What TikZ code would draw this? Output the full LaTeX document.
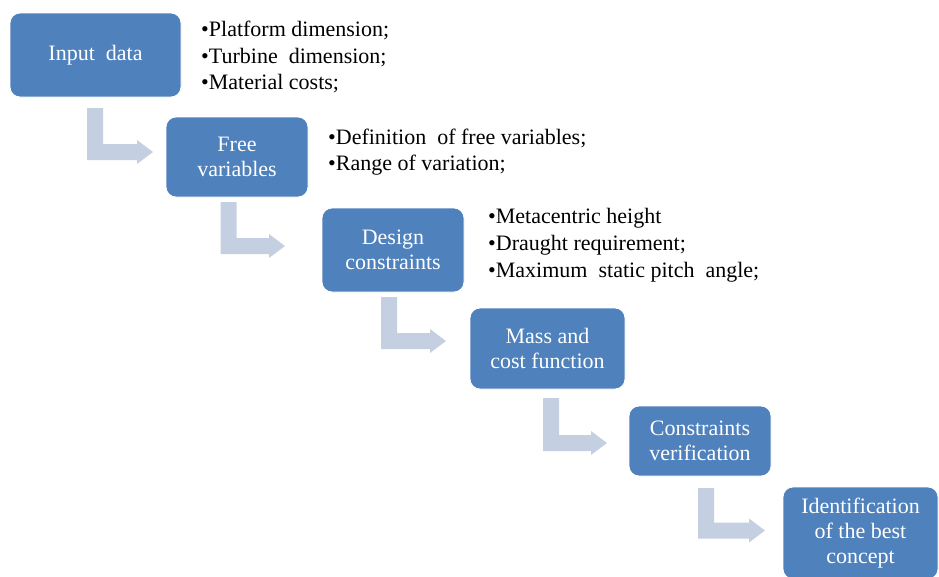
\documentclass[tikz,border=0pt]{standalone}
\usepackage{fontspec}
\setmainfont{Liberation Serif}
\definecolor{boxblue}{RGB}{79,129,189}
\definecolor{arrgray}{RGB}{197,207,226}
\newcommand{\bentarr}[4]{% barx, topy, midy, tipx
  \fill[arrgray] ({#1-8},{#2}) -- ({#1+8},{#2}) -- ({#1+8},{#3-8}) -- ({#4-16},{#3-8})
    -- ({#4-16},{#3-12}) -- ({#4},{#3}) -- ({#4-16},{#3+12}) -- ({#4-16},{#3+8})
    -- ({#1-8},{#3+8}) -- cycle;}
\begin{document}
\begin{tikzpicture}[x=1pt,y=-1pt,
  box/.style={draw=white,line width=0.8pt,fill=boxblue,rounded corners=10pt,inner sep=0pt,
    align=center,text=white,font=\fontsize{22}{25}\selectfont},
  bul/.style={anchor=base west,inner sep=0pt,text=black,font=\fontsize{22}{26}\selectfont}]
\useasboundingbox (0,0) rectangle (939,576);
% arrows
\bentarr{95}{108}{152}{153}
\bentarr{228.5}{202}{246}{285}
\bentarr{389}{297}{341}{446}
\bentarr{551}{398}{443}{607}
\bentarr{706}{488}{530.5}{765}
% boxes
\node[box,minimum width=171pt,minimum height=84pt] (b1) at (95.5,55) {Input~ data};
\node[box,minimum width=142pt,minimum height=80pt] (b2) at (237,157) {Free\\variables};
\node[box,minimum width=142pt,minimum height=84pt] (b3) at (393,250) {Design\\constraints};
\node[box,minimum width=155pt,minimum height=81pt] (b4) at (547.5,348.5) {Mass and\\cost function};
\node[box,minimum width=142pt,minimum height=70pt] (b5) at (700,441) {Constraints\\verification};
\node[box,minimum width=155pt,minimum height=92pt] (b6) at (860.5,533) {Identification\\of the best\\concept};
% bullet texts
\node[bul] (t11) at (201,36) {•Platform dimension;};
\node[bul] (t12) at (201,63) {•Turbine~ dimension;};
\node[bul] (t13) at (201,89) {•Material costs;};
\node[bul] (t21) at (328,144) {•Definition~ of free variables;};
\node[bul] (t22) at (328,170) {•Range of variation;};
\node[bul] (t31) at (488,223) {•Metacentric height};
\node[bul] (t32) at (488,250) {•Draught requirement;};
\node[bul] (t33) at (488,277) {•Maximum~ static pitch~ angle;};
\end{tikzpicture}
\end{document}
